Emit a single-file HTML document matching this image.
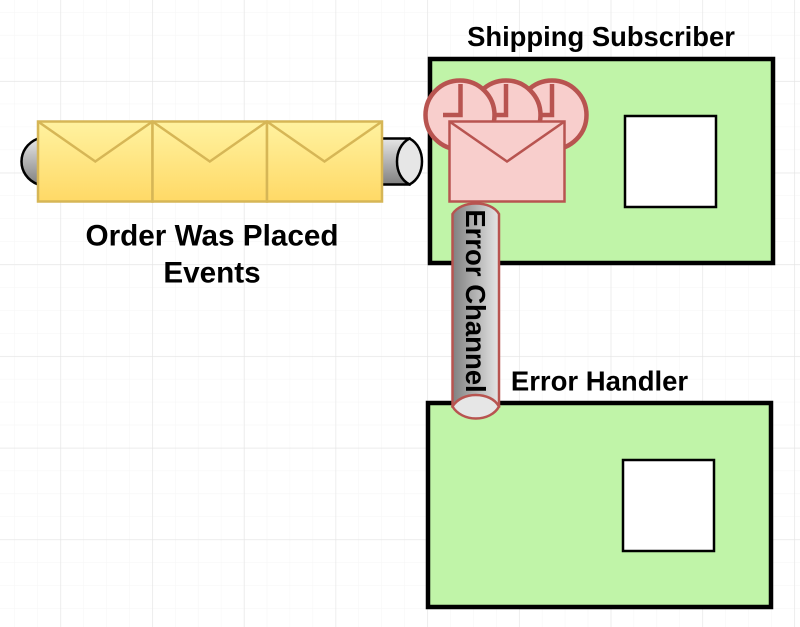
<!DOCTYPE html>
<html>
<head>
<meta charset="utf-8">
<style>
html,body{margin:0;padding:0;background:#fff;width:800px;height:627px;overflow:hidden}
svg{display:block}
text{font-family:"Liberation Sans",sans-serif;font-weight:bold;fill:#000}
</style>
</head>
<body>
<svg width="800" height="627" viewBox="0 0 800 627" xmlns="http://www.w3.org/2000/svg">
<defs>
<linearGradient id="y" x1="0" y1="0" x2="0" y2="1"><stop offset="0" stop-color="#fff2a0"/><stop offset="1" stop-color="#ffd966"/></linearGradient>
<linearGradient id="g" x1="0" y1="0" x2="0" y2="1"><stop offset="0" stop-color="#e6e6e6"/><stop offset="1" stop-color="#808080"/></linearGradient>
<linearGradient id="gh" x1="0" y1="0" x2="1" y2="0"><stop offset="0" stop-color="#808080"/><stop offset="1" stop-color="#e6e6e6"/></linearGradient>
<pattern id="minor" x="14.5" y="12" width="22.93" height="22.93" patternUnits="userSpaceOnUse"><path d="M0 0V22.93M0 0H22.93" stroke="#f5f5f5" stroke-width="1" fill="none"/></pattern>
<pattern id="major" x="60.5" y="81" width="91.7" height="91.7" patternUnits="userSpaceOnUse"><path d="M0 0V91.7M0 0H91.7" stroke="#e4e4e4" stroke-width="1.2" fill="none"/></pattern>
</defs>
<rect width="800" height="627" fill="#fff"/>
<rect width="800" height="627" fill="url(#minor)"/>
<rect width="800" height="627" fill="url(#major)"/>

<!-- Subscriber boxes -->
<rect x="430" y="59" width="343" height="204" fill="#c0f4a8" stroke="#000" stroke-width="4.500"/>
<rect x="625" y="116" width="91" height="91" fill="#fff" stroke="#000" stroke-width="2.500"/>
<rect x="428" y="403" width="343" height="204" fill="#c0f4a8" stroke="#000" stroke-width="4.500"/>
<rect x="623" y="460" width="91" height="91" fill="#fff" stroke="#000" stroke-width="2.500"/>

<!-- Queue cylinder -->
<path d="M38 138.500 H409.500 V184.500 H38 C27 180 21.500 171 21.500 161.500 C21.500 152 27 143 38 138.500Z" fill="url(#g)" stroke="#000" stroke-width="2.500"/>
<path d="M409.500 138.500 C418 143 422 152 422 161.500 C422 171 418 180 409.500 184.500 C401 180 397 171 397 161.500 C397 152 401 143 409.500 138.500Z" fill="#e6e6e6" stroke="#000" stroke-width="2.500"/>

<!-- Yellow envelopes -->
<g fill="url(#y)" stroke="#d6b656" stroke-width="2.500">
<rect x="38" y="121.500" width="114.500" height="80"/>
<rect x="152.500" y="121.500" width="114.500" height="80"/>
<rect x="267" y="121.500" width="115" height="80"/>
</g>
<g fill="none" stroke="#d6b656" stroke-width="2.500">
<path d="M38 121.500 L95.300 161.500 L152.500 121.500"/>
<path d="M152.500 121.500 L209.800 161.500 L267 121.500"/>
<path d="M267 121.500 L324.500 161.500 L382 121.500"/>
</g>

<!-- Clocks -->
<g fill="#f8cecc" stroke="#b85450" stroke-width="4.500">
<circle cx="552" cy="115" r="34.500"/>
<path d="M552 84V115H534" fill="none"/>
<circle cx="506" cy="115" r="34.500"/>
<path d="M506 84V115H488" fill="none"/>
<circle cx="460" cy="115" r="34.500"/>
<path d="M460.500 84V115H443" fill="none"/>
</g>

<!-- Pink envelope -->
<rect x="449.500" y="121.500" width="115" height="80" fill="#f8cecc" stroke="#b85450" stroke-width="2.500"/>
<path d="M449.500 121.500 L507 161.500 L564.500 121.500" fill="none" stroke="#b85450" stroke-width="2.500"/>

<!-- Error channel -->
<path d="M452.500 214 C457 207 466 203.500 475.800 203.500 C486 203.500 495 207 499 214 V406.500 H452.500Z" fill="url(#gh)" stroke="#b85450" stroke-width="2.500"/>
<path d="M452.500 406.500 C457 399 466 395 475.800 395 C486 395 495 399 499 406.500 C495 414 486 418.500 475.800 418.500 C466 418.500 457 414 452.500 406.500Z" fill="#e6e6e6" stroke="#b85450" stroke-width="2.500"/>

<!-- Labels -->
<text x="601" y="46" font-size="27.400" text-anchor="middle">Shipping Subscriber</text>
<text x="599.500" y="390.500" font-size="27.500" text-anchor="middle">Error Handler</text>
<text x="212" y="245.500" font-size="29.700" text-anchor="middle">Order Was Placed</text>
<text x="212" y="282.500" font-size="29.700" text-anchor="middle">Events</text>
<text transform="translate(466 301) rotate(90)" font-size="27.500" text-anchor="middle">Error Channel</text>
</svg>
</body>
</html>
